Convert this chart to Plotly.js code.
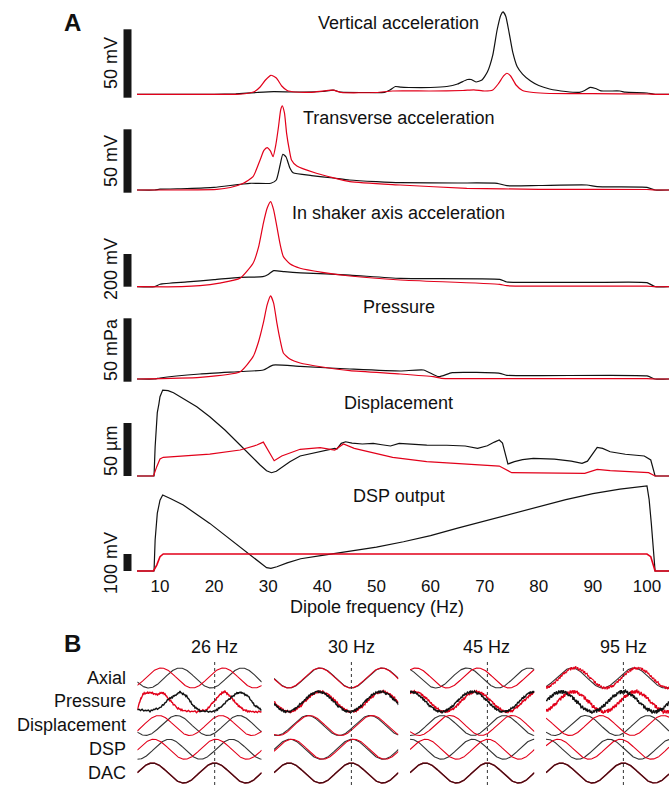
<!DOCTYPE html>
<html><head><meta charset="utf-8">
<script src="https://cdn.plot.ly/plotly-3.0.1.min.js"></script>
<style>html,body{margin:0;padding:0;background:#fff}#chart{width:669px;height:785px}</style>
</head><body><div id="chart"></div>
<script>
// ---------- Panel A: sweep amplitude data (x = dipole frequency, Hz) ----------
// Vertical acceleration (mV)
const fVertBlack = [5.75,20,24,28,31,35,40,42,43.5,48,51.5,52.5,53.5,54.5,56,60,63,65,66.8,67.5,68.4,69.5,70.5,71.5,72.3,73,73.4,73.9,74.5,75.2,76,77,78.5,80,82,85,87.5,88.5,89.5,90.5,91.5,93,95,96,100,101.5,104.1];
const vertBlack  = [0,0,0.37,1.32,1.9,1.68,2.05,3.0,1.54,1.32,1.46,3.14,5.7,5.19,4.97,4.97,5.7,7.53,10.8,10.8,9.0,10.45,16.3,28.7,47.0,58.0,60.2,57.1,45.5,30.6,20.3,14.8,9.7,6.4,3.9,2.05,1.46,2.78,5.12,4.24,2.56,2.41,2.41,1.54,0.95,0,0];
const fVertRed = [5.75,24,26,27.5,28.5,29.5,30.5,31.5,32.5,33.5,35,38,42,43.5,50,53,60,66,68,70,71.5,72.5,73.5,74.1,74.8,75.8,77,79,82,90,100,101.5,104.1];
const vertRed  = [0,0,0.58,2.05,5.34,10.45,13.9,11.9,6.07,2.78,1.68,1.46,3.0,1.32,1.32,2.41,2.41,2.78,3.29,2.41,3.14,7.53,13.4,15.4,13.4,6.8,2.78,1.32,0.58,0.44,0.22,0,0];
// Transverse acceleration (mV)
const fTransBlack = [5.75,9,10,15,20,26.6,30.5,31.5,32.2,32.7,33.3,34,34.6,38,42,45,50,54.4,65,72.3,74.1,80,88.9,90.8,100,101.5,104.1];
const transBlack  = [0,0,0.63,1.18,2.13,5.29,5.29,7.89,19.7,28.2,26.0,17.4,13.6,11.4,9.47,7.89,6.55,5.76,5.52,5.29,3.39,3.55,3.95,2.6,2.13,0,0];
const fTransRed = [5.75,20.5,23,25.4,27.2,28.5,29.2,29.8,30.4,30.9,31.4,31.9,32.3,32.6,33,33.4,33.9,34.3,35.3,38.9,45.1,54.4,66.7,80,100,102,104.1];
const transRed  = [0,0.55,1.97,5.29,10.5,23.7,31.2,33.4,30.8,26.3,35.5,49.9,63.1,66.3,60.8,44.7,31.6,23.7,18.9,13.2,6.55,3.95,1.34,0.55,0.39,0,0];
// In shaker axis acceleration (mV)
const fShakBlack = [5.75,9,10,15,20,24.8,29,30,31,33,36,45.1,54.4,72.8,74.1,80,90,100,101.5,104.1];
const shakBlack  = [0,0,15,29,43,57.5,61.2,75,98,92,85,71,51,45,28.8,27,26,24.5,0,0];
const fShakRed = [5.75,14,17.4,21,24.8,27.2,28.2,29.1,29.8,30.45,31,31.6,32.2,32.8,34,35.9,40,45.1,54.4,72.8,74.1,100,101.5,104.1];
const shakRed  = [0,0,6.1,22,51,143,240,388,480,520,470,367,260,184,140,113,88,65.5,41,14.7,6,3,0,0];
// Pressure (mPa)
const fPresBlack = [5.75,9,10,17.4,25,29.1,30.9,35.9,45.1,54.4,58.7,61.5,64,72.8,74.1,100,101.5,104.1];
const presBlack  = [0,0,0.79,3.95,5.92,7.1,11.0,9.9,7.9,6.3,7.1,1.8,5.0,4.5,2.9,2.4,0,0];
const fPresRed = [5.75,17.4,24.8,27.2,28.2,29.1,29.8,30.45,31,31.6,32.2,32.8,34,35.9,40,45.1,54.4,60.5,62,72,100,101.5,104.1];
const presRed  = [0,1.34,5.76,17.6,29.2,44.2,58.4,65.5,59.9,44.2,30.8,20.5,15.8,12.6,9.47,6.55,3.95,1.81,0.55,0.24,0.24,0,0];
// Displacement (um)
const fDispBlack = [5.75,8.9,9.1,9.3,9.5,9.8,10,10.5,11.5,12.5,14.3,16.8,19.2,22,24.8,26.6,28.5,29.7,30.6,31.5,32.5,34,35.9,38.8,41,42.3,42.7,43.5,44.3,45.5,47.4,49.4,51,52.6,54.2,57,59.3,63,66.4,68.7,70.5,71.8,72.7,73.3,73.8,74.3,75.5,77,79,82.9,86,88,89,89.8,90.8,91.8,93.2,96,99.5,100.7,101.2,101.5,104.1];
const dispBlack  = [0,0,27.3,45,59.8,68,74.8,81.1,80.5,78.6,73.3,65.4,55.9,43.4,29.2,19.8,10.4,5.0,3.1,4.5,8.2,13.5,18.9,22,24.5,26.1,25.5,30.8,32.3,31,30.2,30.8,29.5,28.3,30.8,30,29.2,29,28.3,26.1,28.5,32,34,31,22,11.3,13.5,15.5,16.7,16,14,12,14,20,27,26,22.9,20.5,18.9,15.1,7,0,0];
const fDispRed = [5.75,8.8,9.4,10,10.6,19.2,24.8,27.9,29.1,30,31.1,32.5,35.9,39.6,42.3,43.9,45.9,53,59.3,72.7,75,88.5,90.8,93.2,100.3,101.5,104.1];
const dispRed  = [0,0,8.8,16,17.6,20.7,24.5,29.2,32,24.5,14.4,18.9,25.2,26.7,24.5,30.2,26.1,17.6,13.5,9.4,3.1,2.5,6.3,5.0,3.1,0,0];
// DSP output (mV)
const fDspBlack = [5.75,8.9,9.1,9.5,10,10.5,12,14.3,19.2,24.8,27.9,29.7,30.5,31.6,33.5,36,40,45,50,55,60,65,70,75,80,85,90,95,100,100.4,100.8,101.2,101.5,104.1];
const dspBlack  = [0,0,182,339,417,447,425,388,280,143,65,19.4,15,25,48,72,92,118,140,172,208,252,293,335,378,420,455,482,500,420,280,120,0,0];
const fDspRed = [5.75,8.8,9.4,10,10.6,100,100.7,101.5,104.1];
const dspRed  = [0,0,35,84,100,100,84,0,0];

const xTickVals = [10,20,30,40,50,60,70,80,90,100];
const rowTitles = ['Vertical acceleration','Transverse acceleration','In shaker axis acceleration','Pressure','Displacement','DSP output'];
const barLabels = ['50 mV','50 mV','200 mV','50 mPa','50 \u00b5m','100 mV'];
const barValues = [50,50,200,50,50,100];

// ---------- Panel B: waveform phases (cycles of peak, relative to DAC peak) ----------
const bFreqLabels = ['26 Hz','30 Hz','45 Hz','95 Hz'];
const bRowLabels  = ['Axial','Pressure','Displacement','DSP','DAC'];
const axialBlackPh = [0.44,0.50,0.67,0.17];
const axialRedPh   = [0.14,0.49,0.85,0.22];
const presBlackPh  = [0.43,0.47,0.76,0.00];
const presRedPh    = [0.12,0.50,0.82,0.19];
const dispBlackPh  = [0.39,0.30,0.27,0.39];
const dispRedPh    = [0.10,0.33,0.40,0.64];
const dspBlackPh   = [0.27,0.01,-0.236,-0.23];
const dspRedPh     = [0.02,0.04,0.01,-0.05];
const dacPh        = [0,0,0,0];
// 26 Hz pressure waveforms (t in cycles, normalised amplitude)
const p26RedT = [-1.243,-1.2,-1.147,-1.04,-0.93,-0.825,-0.72,-0.61,-0.5,-0.29,-0.13,-0.02,0.086,0.166,0.246,0.354,0.46,0.568,0.756];
const p26RedV = [-0.8,0.15,0.8,0.92,0.73,0.92,0.15,-0.6,-0.92,-1,-0.8,-0.04,0.73,1.04,0.54,-0.23,-0.8,-1,-1];
const p26BlackT = [-1.243,-1.04,-0.88,-0.72,-0.61,-0.557,-0.45,-0.343,-0.236,-0.02,0.086,0.246,0.354,0.434,0.54,0.65,0.756];
const p26BlackV = [-0.8,-0.92,-0.6,0.35,0.73,1.0,0.54,-0.42,-0.92,-1,-0.6,0.35,0.85,0.92,0.54,-0.42,-0.8];
// recording noise (hand-estimated wiggle)
const jitter = [0.2,-0.6,0.9,-0.1,0.5,-0.9,0.3,0.7,-0.4,0.1,-0.8,0.6,-0.2,0.4,-0.7,0.8,-0.3,0.0,0.6,-0.5,0.9,-0.6,0.2,-0.1,0.7,-0.9,0.4,-0.3,0.5,-0.2,0.8,-0.7,0.1,0.3,-0.5,0.6,-0.8,0.2,-0.4,0.9,-0.1,0.5,-0.6,0.3,-0.9,0.7,-0.2,0.4,-0.5,0.1];

// ---------- layout geometry ----------
const W = 669, H = 785;
const FONT = 'Liberation Sans, Arial, Helvetica, sans-serif';
const RED = '#e2001a', BLK = '#111111';
const px = v => v / W, py = v => 1 - v / H;
const rows = [
  {barTop:29.3,  barBot:97.7,  base:94.3,  top:0,   bot:100, titleY:23,    labelY:63},
  {barTop:129.3, barBot:192.7, base:190,   top:100, bot:195, titleY:118,   labelY:161},
  {barTop:254,   barBot:286.7, base:286.7, top:195, bot:290, titleY:212.7, labelY:269},
  {barTop:318.3, barBot:381.7, base:379,   top:290, bot:385, titleY:307.3, labelY:350},
  {barTop:423,   barBot:476,   base:476,   top:385, bot:480, titleY:402.7, labelY:451},
  {barTop:554,   barBot:571,   base:571,   top:480, bot:574, titleY:496,   labelY:563}
];
const seriesA = [
  [[fVertBlack,vertBlack],[fVertRed,vertRed]],
  [[fTransBlack,transBlack],[fTransRed,transRed]],
  [[fShakBlack,shakBlack],[fShakRed,shakRed]],
  [[fPresBlack,presBlack],[fPresRed,presRed]],
  [[fDispBlack,dispBlack],[fDispRed,dispRed]],
  [[fDspBlack,dspBlack],[fDspRed,dspRed]]
];

const traces = [], shapes = [], annotations = [];
const layout = {
  width: W, height: H, margin: {l:0,r:0,t:0,b:0}, showlegend: false,
  paper_bgcolor: '#ffffff', plot_bgcolor: 'rgba(0,0,0,0)',
  font: {family: FONT, color: '#111', size: 17},
  xaxis: {domain:[px(137),1], range:[5.75,104.07], anchor:'y6', tickvals:xTickVals, ticks:'',
          showgrid:false, zeroline:false, showline:false, tickfont:{size:17, color:'#111'}, fixedrange:true}
};

rows.forEach((r, i) => {
  const ppu = (r.barBot - r.barTop) / barValues[i];
  const yName = i === 0 ? 'yaxis' : 'yaxis' + (i + 1);
  const yId = i === 0 ? 'y' : 'y' + (i + 1);
  layout[yName] = {domain:[py(r.bot), py(r.top)], range:[(r.base - r.bot)/ppu, (r.base - r.top)/ppu],
    anchor:'x', showgrid:false, zeroline:false, showline:false, showticklabels:false, ticks:'', fixedrange:true};
  const smooth = i < 4;
  seriesA[i].forEach((s, j) => {
    traces.push({x:s[0], y:s[1], xaxis:'x', yaxis:yId, mode:'lines', hoverinfo:'skip',
      line:{color: j === 0 ? BLK : RED, width: (i === 5 && j === 1) ? 1.6 : 1.2, shape: smooth ? 'spline' : 'linear', smoothing: 0.5}});
  });
  const b0 = (r.base - r.barBot) / ppu;
  shapes.push({type:'rect', xref:'paper', yref:yId, x0:px(123.5), x1:px(131.5), y0:b0, y1:b0 + barValues[i],
    fillcolor:'#161616', line:{width:0}});
  annotations.push({xref:'paper', yref:'paper', x:px(399), y:py(r.titleY), text:rowTitles[i], showarrow:false,
    font:{size:18}, xanchor:'center', yanchor:'middle'});
  annotations.push({xref:'paper', yref:'paper', x:px(111), y:py(r.labelY), text:barLabels[i], showarrow:false,
    textangle:-90, font:{size:18}, xanchor:'center', yanchor:'middle'});
});
annotations.push({xref:'paper', yref:'paper', x:px(377), y:py(607), text:'Dipole frequency (Hz)', showarrow:false,
  font:{size:18}, xanchor:'center', yanchor:'middle'});
annotations.push({xref:'paper', yref:'paper', x:px(72.5), y:py(23), text:'<b>A</b>', showarrow:false,
  font:{size:24}, xanchor:'center', yanchor:'middle'});
annotations.push({xref:'paper', yref:'paper', x:px(72.5), y:py(643), text:'<b>B</b>', showarrow:false,
  font:{size:24}, xanchor:'center', yanchor:'middle'});

// ---------- Panel B ----------
const bStart = [137.3, 274, 410, 546];
const bWidth = 124.4, pxPerCycle = 62.2, T0 = -1.244;
const B_AMP = 0.42, rowCenter0 = 678, rowStep = 23.75;
const bTop = 655, bBot = 785;
const bRange = [-(bBot - rowCenter0)/rowStep, -(bTop - rowCenter0)/rowStep];

function sineTrace(k, row, phase, color, noise, seed, width, opacity) {
  const xs = [], ys = [];
  const t1 = layout['xaxis' + (k + 2)].range[1];
  const n = 260;
  for (let m = 0; m <= n; m++) {
    const t = T0 + (t1 - T0) * m / n;
    let v = Math.cos(2 * Math.PI * (t - phase));
    if (noise) v += noise * jitter[(m * 7 + seed) % jitter.length];
    xs.push(t); ys.push(-row + B_AMP * v);
  }
  return {x:xs, y:ys, xaxis:'x' + (k + 2), yaxis:'y' + (k + 7), mode:'lines', hoverinfo:'skip',
    opacity: opacity || 1, line:{color, width: width || 1.1}};
}
function pointTrace(k, row, ts, vs, color, noise, seed) {
  const xs = [], ys = [];
  for (let a = 0; a < ts.length - 1; a++) {
    const steps = 8;
    for (let s = 0; s < steps; s++) {
      const f = s / steps;
      const t = ts[a] + (ts[a + 1] - ts[a]) * f;
      let v = vs[a] + (vs[a + 1] - vs[a]) * f;
      v += noise * jitter[(a * steps + s + seed) % jitter.length];
      xs.push(t); ys.push(-row + B_AMP * v);
    }
  }
  xs.push(ts[ts.length - 1]); ys.push(-row + B_AMP * vs[vs.length - 1]);
  return {x:xs, y:ys, xaxis:'x' + (k + 2), yaxis:'y' + (k + 7), mode:'lines', hoverinfo:'skip',
    line:{color, width:1.4}};
}

bStart.forEach((s, k) => {
  const right = Math.min(s + bWidth, W);
  layout['xaxis' + (k + 2)] = {domain:[px(s), px(right)], range:[T0, T0 + (right - s)/pxPerCycle], anchor:'y' + (k + 7),
    showgrid:false, zeroline:false, showline:false, showticklabels:false, ticks:'', fixedrange:true};
  layout['yaxis' + (k + 7)] = {domain:[py(bBot), py(bTop)], range:bRange, anchor:'x' + (k + 2),
    showgrid:false, zeroline:false, showline:false, showticklabels:false, ticks:'', fixedrange:true};
  annotations.push({xref:'paper', yref:'paper', x:px(s + 77), y:py(647), text:bFreqLabels[k], showarrow:false,
    font:{size:18}, xanchor:'center', yanchor:'middle'});
  shapes.push({type:'line', xref:'x' + (k + 2), yref:'paper', x0:0, x1:0, y0:py(785), y1:py(661.5),
    line:{color:'#333', width:1, dash:'dot'}});
});
bStart.forEach((s, k) => {
  const heavy = k === 3 ? 0.2 : 0.12;
  traces.push(sineTrace(k, 0, axialBlackPh[k], '#333', 0, 0));
  traces.push(sineTrace(k, 0, axialRedPh[k], RED, k === 3 ? 0.16 : 0, 11));
  if (k === 0) {
    traces.push(pointTrace(k, 1, p26RedT, p26RedV, RED, 0.1, 3));
    traces.push(pointTrace(k, 1, p26BlackT, p26BlackV, BLK, 0.1, 17));
  } else {
    traces.push(sineTrace(k, 1, presRedPh[k], RED, heavy, 5 + k, 1.4));
    traces.push(sineTrace(k, 1, presBlackPh[k], BLK, heavy, 23 + k, 1.4));
  }
  traces.push(sineTrace(k, 2, dispBlackPh[k], '#333', 0, 0));
  traces.push(sineTrace(k, 2, dispRedPh[k], RED, 0, 0));
  traces.push(sineTrace(k, 3, dspBlackPh[k], '#333', 0, 0));
  traces.push(sineTrace(k, 3, dspRedPh[k], RED, 0, 0));
  traces.push(sineTrace(k, 4, dacPh[k], RED, 0, 0, 1.4));
  traces.push(sineTrace(k, 4, dacPh[k], BLK, 0, 0, 1.4, 0.75));
});
bRowLabels.forEach((lab, i) => {
  annotations.push({xref:'paper', yref:'paper', x:px(128), y:py(rowCenter0 + rowStep * i - 0.5), text:lab, showarrow:false,
    font:{size:18}, xanchor:'right', yanchor:'middle'});
});

layout.shapes = shapes;
layout.annotations = annotations;
Plotly.newPlot('chart', traces, layout, {staticPlot:true, displayModeBar:false});
</script></body></html>
